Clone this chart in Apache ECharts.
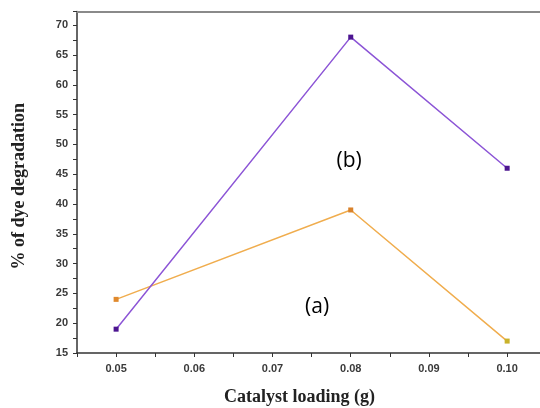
<!DOCTYPE html>
<html>
<head>
<meta charset="utf-8">
<script src="https://cdn.jsdelivr.net/npm/echarts@6/dist/echarts.min.js"></script>
<style>
  html, body { margin: 0; padding: 0; background: #fff; }
  #chart { width: 540px; height: 408px; }
</style>
</head>
<body>
<div id="chart"></div>
<script>
// Catalyst loading (g) vs. % dye degradation for two samples
const catalystLoading = [0.05, 0.08, 0.10];
const seriesA = [24, 39, 17];   // (a)
const seriesB = [19, 68, 46];   // (b)
const xTickValues = [0.05, 0.06, 0.07, 0.08, 0.09, 0.10];
const yTickValues = [15, 20, 25, 30, 35, 40, 45, 50, 55, 60, 65, 70];

// series tags placed in data coordinates
const tagB = { text: '(b)', at: [0.0798, 47.2] };
const tagA = { text: '(a)', at: [0.0757, 22.7] };

const pairs = (xs, ys) => xs.map((x, i) => [x, ys[i]]);
const near = (v, list) => list.some(t => Math.abs(t - v) < 1e-6);

const chart = echarts.init(document.getElementById('chart'), null, { renderer: 'canvas' });

const tickFont = { fontFamily: 'Liberation Sans, Arial, sans-serif', fontWeight: 'bold', fontSize: 11, color: '#3a3a3a' };
const nameFont = { fontFamily: 'Liberation Serif, Times New Roman, serif', fontWeight: 'bold', fontSize: 18, color: '#222' };

function tag(t) {
  return {
    symbolSize: 0,
    data: [{ coord: t.at, value: t.text }],
    label: {
      show: true, position: 'inside', formatter: t.text,
      fontFamily: 'Open Sans, Liberation Sans, sans-serif', fontSize: 21, color: '#000'
    }
  };
}

chart.setOption({
  animation: false,
  backgroundColor: '#fff',
  grid: { left: 77, top: 11.5, right: 0, bottom: 55, containLabel: false, outerBoundsMode: 'none' },
  xAxis: [{
    type: 'value',
    min: 0.045, max: 0.1042, interval: 0.005,
    name: 'Catalyst loading (g)',
    nameLocation: 'middle', nameGap: 35,
    nameTextStyle: Object.assign({ padding: [0, 18, 0, 0] }, nameFont),
    axisLine: { show: true, onZero: false, lineStyle: { color: '#333', width: 1.5 } },
    axisTick: { show: true, inside: false, length: 4, lineStyle: { color: '#333', width: 1 } },
    axisLabel: Object.assign({
      margin: 10,
      formatter: v => near(v, xTickValues) ? v.toFixed(2) : ''
    }, tickFont),
    splitLine: { show: false }
  }, {
    type: 'value', position: 'top',
    min: 0.045, max: 0.1042,
    axisLine: { show: true, lineStyle: { color: '#8a8a8a', width: 2 } },
    axisTick: { show: false }, axisLabel: { show: false }, splitLine: { show: false }
  }],
  yAxis: {
    type: 'value',
    min: 15, max: 72.3, interval: 2.5,
    name: '% of dye degradation',
    nameLocation: 'middle', nameGap: 49, nameRotate: 90,
    nameTextStyle: Object.assign({ padding: [0, 8, 0, 0] }, nameFont),
    axisLine: { show: true, onZero: false, lineStyle: { color: '#333', width: 1.5 } },
    axisTick: { show: true, inside: false, length: 4, lineStyle: { color: '#333', width: 1 } },
    axisLabel: Object.assign({
      margin: 9,
      formatter: v => near(v, yTickValues) ? String(v) : ''
    }, tickFont),
    splitLine: { show: false }
  },
  series: [{
    name: '(a)',
    type: 'line',
    data: pairs(catalystLoading, seriesA),
    symbol: 'rect', symbolSize: 5,
    lineStyle: { color: '#f0ad4e', width: 1.5 },
    itemStyle: { color: p => ['#e0892c', '#d9822b', '#c9b22a'][p.dataIndex] },
    markPoint: tag(tagA),
    z: 3
  }, {
    name: '(b)',
    type: 'line',
    data: pairs(catalystLoading, seriesB),
    symbol: 'rect', symbolSize: 5,
    lineStyle: { color: '#8c55d6', width: 1.5 },
    itemStyle: { color: '#4c1590' },
    markPoint: tag(tagB),
    z: 4
  }]
});
</script>
</body>
</html>
